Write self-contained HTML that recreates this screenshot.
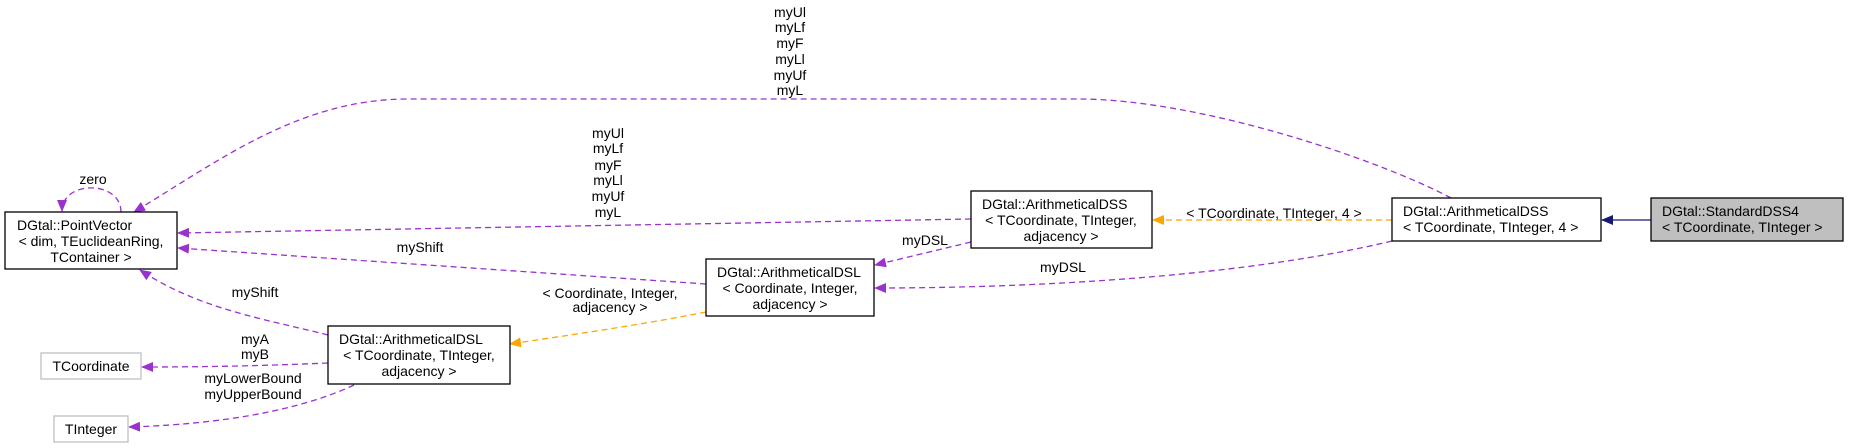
<!DOCTYPE html>
<html><head><meta charset="utf-8"><style>
html,body{margin:0;padding:0;background:#fff;}
svg{display:block;}
text{font-family:"Liberation Sans",sans-serif;font-size:14px;fill:#000;}
</style></head><body>
<svg width="1849" height="448" viewBox="0 0 1849 448" xmlns="http://www.w3.org/2000/svg">
<defs>
<marker id="ap" markerWidth="12" markerHeight="10" refX="11" refY="5" orient="auto" markerUnits="userSpaceOnUse"><path d="M0,0 L12,5 L0,10 z" fill="#9a32cd"/></marker>
<marker id="ao" markerWidth="12" markerHeight="10" refX="11" refY="5" orient="auto" markerUnits="userSpaceOnUse"><path d="M0,0 L12,5 L0,10 z" fill="#ffa500"/></marker>
<marker id="an" markerWidth="12" markerHeight="10" refX="11" refY="5" orient="auto" markerUnits="userSpaceOnUse"><path d="M0,0 L12,5 L0,10 z" fill="#191970"/></marker>
</defs>
<g fill="none" stroke-width="1.3">
<!-- inheritance -->
<path d="M1651,220 L1602,220" stroke="#191970" marker-end="url(#an)"/>
<!-- template instance orange -->
<path d="M1392,220 L1153,220" stroke="#ffa500" stroke-dasharray="6,4" marker-end="url(#ao)"/>
<path d="M706,312 C640,325 570,335 510,344" stroke="#ffa500" stroke-dasharray="6,4" marker-end="url(#ao)"/>
<!-- purple -->
<g stroke="#9a32cd" stroke-dasharray="6,4">
<path d="M1451,198 C1380,160 1200,99 1078,99 L408,99 C300,99 220,160 134,212" marker-end="url(#ap)"/>
<path d="M971,219 L178,233" marker-end="url(#ap)"/>
<path d="M971,242 L875,265" marker-end="url(#ap)"/>
<path d="M1392,241 C1250,275 1050,288 875,288" marker-end="url(#ap)"/>
<path d="M706,284 L178,248" marker-end="url(#ap)"/>
<path d="M328,335 C270,320 200,310 140,270" marker-end="url(#ap)"/>
<path d="M328,363 C260,366 200,367 142,367" marker-end="url(#ap)"/>
<path d="M354,385 C290,415 200,425 129,427" marker-end="url(#ap)"/>
<path d="M121,212 C121,180 62,180 62,211" marker-end="url(#ap)"/>
</g>
</g>
<!-- nodes -->
<g stroke-width="1.3">
<rect x="5" y="212" width="172" height="57" fill="#fff" stroke="#000"/>
<rect x="41" y="353" width="100" height="26" fill="#fff" stroke="#bfbfbf"/>
<rect x="54" y="416" width="74" height="26" fill="#fff" stroke="#bfbfbf"/>
<rect x="328" y="326" width="182" height="58" fill="#fff" stroke="#000"/>
<rect x="706" y="259" width="168" height="57" fill="#fff" stroke="#000"/>
<rect x="971" y="191" width="181" height="57" fill="#fff" stroke="#000"/>
<rect x="1392" y="198" width="209" height="43" fill="#fff" stroke="#000"/>
<rect x="1651" y="198" width="192" height="43" fill="#bfbfbf" stroke="#000"/>
</g>
<g>
<text x="17" y="230">DGtal::PointVector</text>
<text x="91" y="246" text-anchor="middle">&lt; dim, TEuclideanRing,</text>
<text x="91" y="262" text-anchor="middle">TContainer &gt;</text>
<text x="91" y="371" text-anchor="middle">TCoordinate</text>
<text x="91" y="434" text-anchor="middle">TInteger</text>
<text x="339" y="344">DGtal::ArithmeticalDSL</text>
<text x="419" y="360" text-anchor="middle">&lt; TCoordinate, TInteger,</text>
<text x="419" y="376" text-anchor="middle">adjacency &gt;</text>
<text x="717" y="277">DGtal::ArithmeticalDSL</text>
<text x="790" y="293" text-anchor="middle">&lt; Coordinate, Integer,</text>
<text x="790" y="309" text-anchor="middle">adjacency &gt;</text>
<text x="982" y="209">DGtal::ArithmeticalDSS</text>
<text x="1061" y="225" text-anchor="middle">&lt; TCoordinate, TInteger,</text>
<text x="1061" y="241" text-anchor="middle">adjacency &gt;</text>
<text x="1403" y="216">DGtal::ArithmeticalDSS</text>
<text x="1403" y="232">&lt; TCoordinate, TInteger, 4 &gt;</text>
<text x="1662" y="216">DGtal::StandardDSS4</text>
<text x="1662" y="232">&lt; TCoordinate, TInteger &gt;</text>
</g>
<g text-anchor="middle">
<text x="93" y="184">zero</text>
<text x="790" y="17">myUl</text><text x="790" y="32">myLf</text><text x="790" y="48">myF</text><text x="790" y="64">myLl</text><text x="790" y="80">myUf</text><text x="790" y="95">myL</text>
<text x="608" y="138">myUl</text><text x="608" y="153">myLf</text><text x="608" y="170">myF</text><text x="608" y="185">myLl</text><text x="608" y="201">myUf</text><text x="608" y="217">myL</text>
<text x="1274" y="218">&lt; TCoordinate, TInteger, 4 &gt;</text>
<text x="925" y="245">myDSL</text>
<text x="1063" y="272">myDSL</text>
<text x="420" y="252">myShift</text>
<text x="255" y="297">myShift</text>
<text x="610" y="298">&lt; Coordinate, Integer,</text>
<text x="610" y="312">adjacency &gt;</text>
<text x="255" y="344">myA</text>
<text x="255" y="359">myB</text>
<text x="253" y="383">myLowerBound</text>
<text x="253" y="399">myUpperBound</text>
</g>
</svg>
</body></html>
